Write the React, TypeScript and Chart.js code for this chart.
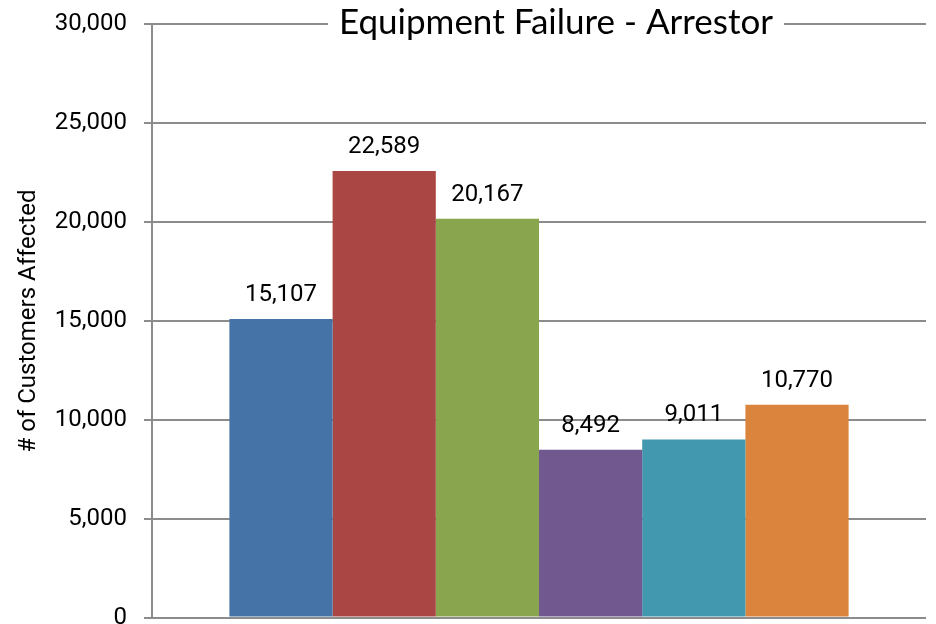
import React, { useEffect, useRef } from "react";
import { Chart, registerables } from "chart.js";

Chart.register(...registerables);

const categories = [""];
const seriesNames = ["Series 1", "Series 2", "Series 3", "Series 4", "Series 5", "Series 6"];
const seriesValues = [15107, 22589, 20167, 8492, 9011, 10770];
const seriesColors = ["#4572A7", "#AA4643", "#89A54E", "#71588F", "#4198AF", "#DB843D"];
const yTicksMin = 0;
const yTicksMax = 30000;
const yTickStep = 5000;
const chartTitle = "Equipment Failure - Arrestor";
const yAxisTitle = "# of Customers Affected";

const GRID = "#8c8c8c";

const labelPlugin = {
  id: "valueLabels",
  afterDatasetsDraw(chart: any) {
    const ctx = chart.ctx;
    ctx.save();
    ctx.font = "24px Roboto";
    ctx.fillStyle = "#000";
    ctx.textAlign = "center";
    ctx.textBaseline = "alphabetic";
    chart.data.datasets.forEach((ds: any, i: number) => {
      const meta = chart.getDatasetMeta(i);
      meta.data.forEach((el: any, j: number) => {
        const v = ds.data[j];
        ctx.fillText(Number(v).toLocaleString("en-US"), el.x, el.y - 18);
      });
    });
    ctx.restore();
  },
};

const titlePlugin = {
  id: "overlayTitle",
  afterDraw(chart: any) {
    const ctx = chart.ctx;
    const area = chart.chartArea;
    ctx.save();
    ctx.font = "35px Lato";
    const w = ctx.measureText(chartTitle).width;
    const cx = 556;
    ctx.fillStyle = "#ffffff";
    ctx.fillRect(cx - w / 2 - 11, area.top - 8, w + 22, 16);
    ctx.fillStyle = "#000";
    ctx.textAlign = "center";
    ctx.textBaseline = "alphabetic";
    ctx.fillText(chartTitle, cx, area.top + 10);
    ctx.restore();
  },
};

export default function App() {
  const ref = useRef<HTMLCanvasElement | null>(null);
  useEffect(() => {
    document.body.style.overflow = "hidden";
    const canvas = ref.current;
    if (!canvas) return;
    const chart = new Chart(canvas, {
      type: "bar",
      data: {
        labels: categories,
        datasets: seriesValues.map((v, i) => ({
          label: seriesNames[i],
          data: [v],
          backgroundColor: seriesColors[i],
          borderWidth: 0,
          barPercentage: 1,
          categoryPercentage: 0.8,
        })),
      },
      options: {
        responsive: false,
        animation: false,
        devicePixelRatio: 1,
        locale: "en-US",
        layout: { padding: { left: 0, right: 10, top: 0, bottom: 0 } },
        plugins: {
          legend: { display: false },
          title: { display: false },
          tooltip: { enabled: false },
        },
        scales: {
          x: { display: false },
          y: {
            min: yTicksMin,
            max: yTicksMax,
            ticks: {
              stepSize: yTickStep,
              color: "#000",
              font: { family: "Roboto", size: 24 },
              padding: 17,
            },
            grid: {
              color: GRID,
              lineWidth: 2,
              drawTicks: true,
              tickLength: 8,
            },
            border: { display: true, color: GRID, width: 2 },
            title: {
              display: true,
              text: yAxisTitle,
              color: "#000",
              font: { family: "Roboto", size: 24 },
              padding: { top: 15, bottom: 0 },
            },
            afterFit(scale: any) {
              scale.width = 152;
            },
          },
        },
      },
      plugins: [labelPlugin, titlePlugin],
    });
    return () => chart.destroy();
  }, []);
  return (
    <div style={{ position: "fixed", left: 0, top: -7, width: 936, height: 656, background: "#fff" }}>
      <canvas ref={ref} width={936} height={656} style={{ display: "block" }} />
    </div>
  );
}
